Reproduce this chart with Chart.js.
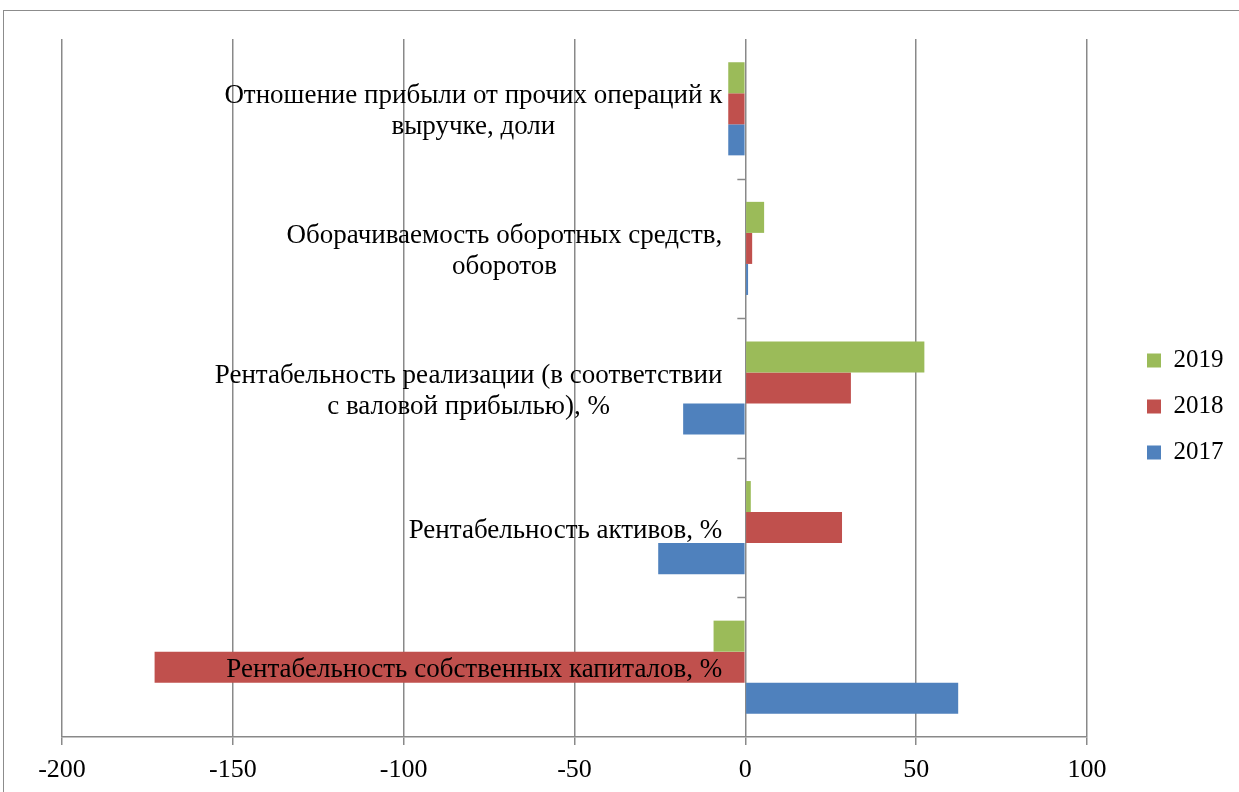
<!DOCTYPE html>
<html>
<head>
<meta charset="utf-8">
<script src="https://cdn.jsdelivr.net/npm/chart.js@4.4.1/dist/chart.umd.min.js"></script>
<style>
    html, body { margin: 0; padding: 0; background: #fff; overflow: hidden; }
    #frame { position: absolute; left: 3px; top: 10px; width: 1300px; height: 900px;
             border-left: 1px solid #8c8c8c; border-top: 1px solid #8c8c8c; }
    #wrap { position: absolute; left: 0; top: 0; width: 1239px; height: 792px; }
</style>
</head>
<body>
<div id="frame"></div>
<div id="wrap"><canvas id="chart"></canvas></div>
<script>
// Categories, top to bottom (multi-line labels as arrays)
const categories = [
    ['Отношение прибыли от прочих операций к', 'выручке, доли'],
    ['Оборачиваемость оборотных средств,', 'оборотов'],
    ['Рентабельность реализации (в соответствии', 'с валовой прибылью), %'],
    ['Рентабельность активов, %'],
    ['Рентабельность собственных капиталов, %']
];
const seriesNames = ['2019', '2018', '2017'];
const values2019 = [-5, 5.5, 52.4, 1.6, -9.3];
const values2018 = [-5, 2.0, 30.9, 28.3, -172.9];
const values2017 = [-5, 0.8, -18.2, -25.5, 62.3];
const xTicks = [-200, -150, -100, -50, 0, 50, 100];

const seriesColors = ['#9BBB59', '#C0504D', '#4F81BD'];
const gridColor = '#898989';
const serif = '"Liberation Serif", "Times New Roman", serif';

// Category labels drawn next to the zero line, like Excel does
const categoryLabels = {
    id: 'categoryLabels',
    afterDatasetsDraw(chart) {
        const { ctx, scales: { x, y } } = chart;
        const x0 = x.getPixelForValue(0);
        ctx.save();

        // tick marks between categories on the vertical axis
        ctx.strokeStyle = gridColor;
        ctx.lineWidth = 1.5;
        for (let i = 0; i < categories.length - 1; i++) {
            const yb = Math.round((y.getPixelForValue(i) + y.getPixelForValue(i + 1)) / 2) + 0.5;
            ctx.beginPath();
            ctx.moveTo(x0 - 8, yb);
            ctx.lineTo(x0, yb);
            ctx.stroke();
        }

        ctx.font = '27px ' + serif;
        ctx.fillStyle = '#000';
        ctx.textAlign = 'center';
        ctx.textBaseline = 'middle';
        categories.forEach((lines, i) => {
            const yc = y.getPixelForValue(i) + 3;
            const w = Math.max(...lines.map(l => ctx.measureText(l).width));
            const cx = x0 - 23 - w / 2;
            lines.forEach((line, j) => {
                ctx.fillText(line, cx, yc + (j - (lines.length - 1) / 2) * 31);
            });
        });
        ctx.restore();
    }
};

const ctx = document.getElementById('chart').getContext('2d');
new Chart(ctx, {
    type: 'bar',
    data: {
        labels: categories.map(c => c.join(' ')),
        datasets: [
            { label: seriesNames[0], data: values2019, backgroundColor: seriesColors[0] },
            { label: seriesNames[1], data: values2018, backgroundColor: seriesColors[1] },
            { label: seriesNames[2], data: values2017, backgroundColor: seriesColors[2] }
        ]
    },
    options: {
        indexAxis: 'y',
        responsive: true,
        maintainAspectRatio: false,
        animation: false,
        layout: { padding: { left: 62, top: 39, right: 5.5, bottom: 0 } },
        datasets: {
            bar: { categoryPercentage: 0.667, barPercentage: 1, borderWidth: 0 }
        },
        scales: {
            x: {
                min: xTicks[0],
                max: xTicks[xTicks.length - 1],
                afterBuildTicks: s => { s.ticks = xTicks.map(v => ({ value: v })); },
                afterFit: s => { s.height = 55; },
                ticks: { color: '#000', font: { family: serif, size: 26 }, padding: 10 },
                grid: { color: gridColor, lineWidth: 1.5, tickLength: 8 },
                border: { color: gridColor, width: 1.5 }
            },
            y: { display: false },
            pad: {
                type: 'linear',
                position: 'right',
                display: true,
                grid: { display: false },
                ticks: { display: false },
                border: { display: false },
                afterFit: s => { s.width = 39; }
            }
        },
        plugins: {
            legend: {
                position: 'right',
                align: 'start',
                title: { display: true, text: ' ', font: { size: 20 }, padding: { top: 0, bottom: 264 } },
                labels: {
                    boxWidth: 14,
                    boxHeight: 14,
                    padding: 21,
                    color: '#000',
                    font: { family: serif, size: 25 }
                }
            },
            tooltip: { enabled: false }
        }
    },
    plugins: [categoryLabels]
});
</script>
</body>
</html>
